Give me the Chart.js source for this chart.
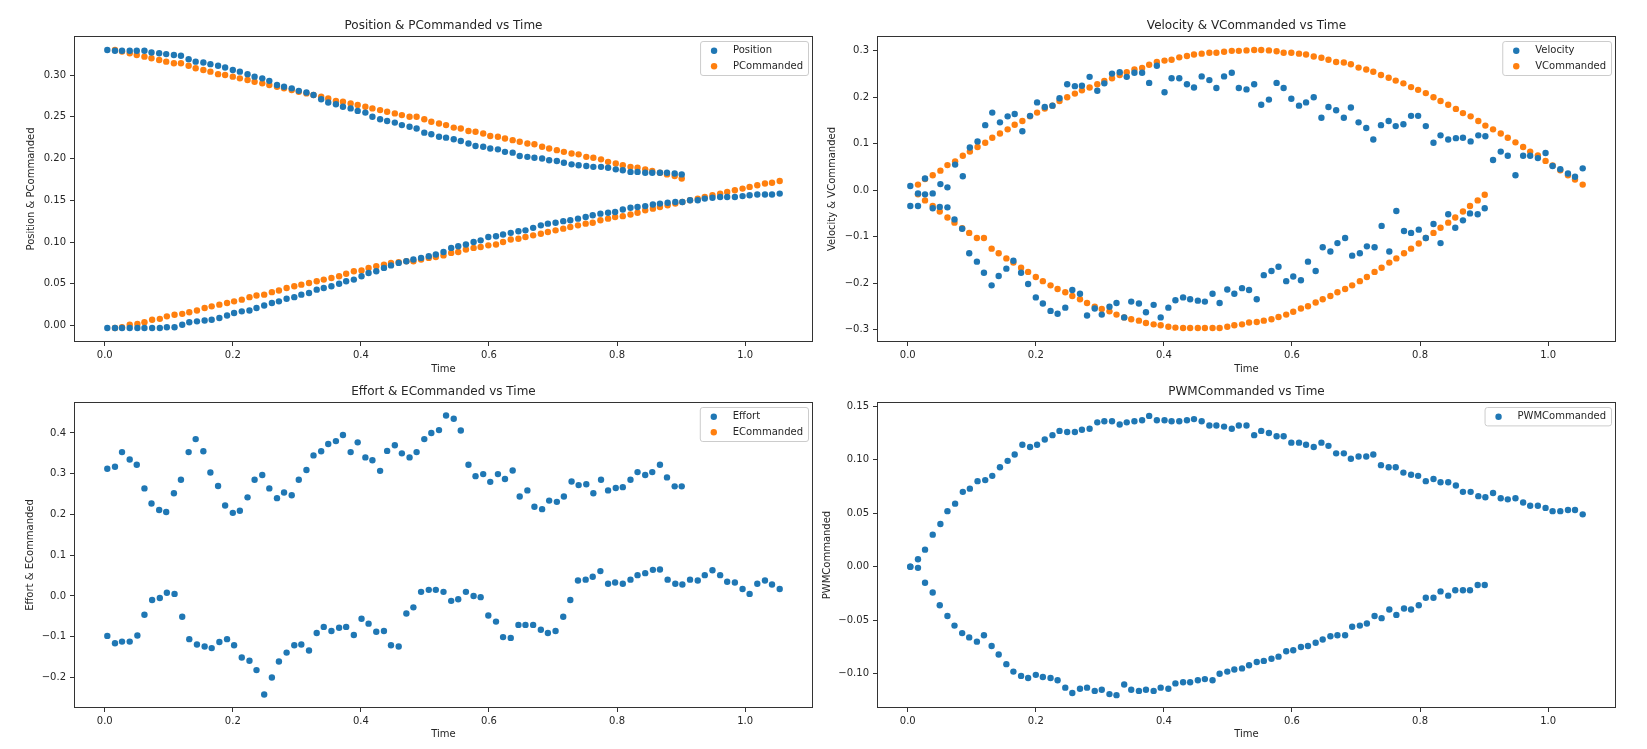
<!DOCTYPE html>
<html>
<head>
<meta charset="utf-8">
<title>Position, Velocity, Effort, PWM vs Time</title>
<script src="https://cdn.jsdelivr.net/npm/chart.js@4.4.1/dist/chart.umd.min.js"></script>
<style>
  body { margin: 0; background: #fff; width: 1647px; height: 749px; position: relative; overflow: hidden; }
  canvas { position: absolute; }
</style>
</head>
<body>
<canvas id="pos" width="823" height="383" style="left:0;top:0"></canvas>
<canvas id="vel" width="823" height="383" style="left:803px;top:0"></canvas>
<canvas id="eff" width="823" height="383" style="left:0;top:366px"></canvas>
<canvas id="pwm" width="823" height="383" style="left:803px;top:366px"></canvas>
<script>
// run A: returning leg (ends ~0.9 s), run B: outgoing leg (ends ~1.05 s)
const timeA = [0.004,0.016,0.027,0.039,0.050,0.062,0.073,0.085,0.096,0.108,
  0.119,0.131,0.142,0.154,0.165,0.177,0.188,0.200,0.211,0.223,
  0.234,0.246,0.257,0.269,0.280,0.292,0.303,0.315,0.326,0.338,
  0.349,0.361,0.372,0.384,0.395,0.407,0.418,0.430,0.441,0.453,
  0.464,0.476,0.487,0.499,0.510,0.522,0.533,0.545,0.556,0.568,
  0.579,0.591,0.602,0.614,0.625,0.637,0.648,0.660,0.671,0.683,
  0.694,0.706,0.717,0.729,0.740,0.752,0.763,0.775,0.786,0.798,
  0.809,0.821,0.832,0.844,0.855,0.867,0.878,0.890,0.901];
const timeB = [0.004,0.016,0.027,0.039,0.051,0.062,0.074,0.086,0.097,0.109,
  0.121,0.132,0.144,0.156,0.167,0.179,0.191,0.202,0.214,0.226,
  0.237,0.249,0.261,0.272,0.284,0.296,0.307,0.319,0.331,0.342,
  0.354,0.366,0.377,0.389,0.401,0.412,0.424,0.436,0.447,0.459,
  0.471,0.482,0.494,0.506,0.517,0.529,0.541,0.552,0.564,0.576,
  0.587,0.599,0.611,0.622,0.634,0.646,0.657,0.669,0.681,0.692,
  0.704,0.716,0.727,0.739,0.751,0.762,0.774,0.786,0.797,0.809,
  0.821,0.832,0.844,0.856,0.867,0.879,0.891,0.902,0.914,0.926,
  0.937,0.949,0.961,0.972,0.984,0.996,1.007,1.019,1.031,1.042,
  1.054];

const positionA = [0.330,0.329,0.329,0.329,0.329,0.329,0.327,0.326,0.325,0.324,
  0.323,0.319,0.316,0.315,0.313,0.311,0.309,0.306,0.304,0.301,
  0.298,0.296,0.293,0.288,0.286,0.284,0.281,0.279,0.276,0.271,
  0.267,0.265,0.262,0.260,0.257,0.255,0.250,0.247,0.245,0.243,
  0.240,0.238,0.236,0.231,0.229,0.226,0.225,0.223,0.221,0.218,
  0.215,0.214,0.212,0.211,0.208,0.207,0.203,0.202,0.201,0.200,
  0.198,0.197,0.195,0.193,0.192,0.191,0.190,0.190,0.189,0.187,
  0.186,0.184,0.184,0.183,0.183,0.183,0.183,0.182,0.181];
const positionB = [-0.003,-0.003,-0.003,-0.003,-0.003,-0.003,-0.003,-0.003,-0.002,-0.002,
  0.001,0.004,0.005,0.006,0.007,0.009,0.012,0.015,0.017,0.018,
  0.021,0.024,0.027,0.029,0.032,0.034,0.037,0.039,0.043,0.045,
  0.047,0.050,0.053,0.055,0.059,0.063,0.065,0.069,0.072,0.075,
  0.077,0.079,0.081,0.083,0.085,0.088,0.093,0.095,0.097,0.100,
  0.102,0.106,0.107,0.109,0.111,0.113,0.114,0.117,0.120,0.122,
  0.123,0.125,0.126,0.128,0.130,0.132,0.134,0.135,0.136,0.139,
  0.141,0.142,0.143,0.145,0.146,0.147,0.148,0.148,0.150,0.150,
  0.152,0.153,0.154,0.154,0.154,0.155,0.156,0.157,0.157,0.157,
  0.158];
// commanded values start one sample later
const pCommandedA = [0.330,0.328,0.326,0.324,0.322,0.320,0.318,0.316,0.314,0.314,
  0.311,0.308,0.306,0.304,0.301,0.300,0.298,0.296,0.294,0.292,
  0.290,0.288,0.286,0.284,0.282,0.280,0.278,0.276,0.274,0.272,
  0.269,0.268,0.266,0.264,0.262,0.260,0.258,0.256,0.254,0.252,
  0.250,0.250,0.247,0.244,0.242,0.240,0.237,0.236,0.233,0.232,
  0.230,0.227,0.226,0.224,0.222,0.220,0.218,0.217,0.214,0.212,
  0.210,0.208,0.206,0.205,0.202,0.201,0.199,0.196,0.194,0.192,
  0.190,0.189,0.187,0.185,0.183,0.181,0.179,0.176];
const pCommandedB = [-0.003,-0.002,0.001,0.002,0.004,0.007,0.008,0.011,0.013,0.014,
  0.016,0.018,0.021,0.023,0.025,0.027,0.029,0.031,0.034,0.036,
  0.037,0.040,0.042,0.045,0.047,0.049,0.051,0.053,0.055,0.057,
  0.059,0.062,0.065,0.066,0.069,0.071,0.073,0.075,0.076,0.077,
  0.077,0.079,0.081,0.082,0.084,0.087,0.088,0.091,0.093,0.094,
  0.096,0.097,0.100,0.103,0.104,0.106,0.108,0.110,0.112,0.114,
  0.116,0.118,0.120,0.122,0.123,0.126,0.128,0.130,0.131,0.133,
  0.135,0.138,0.140,0.142,0.144,0.146,0.148,0.150,0.152,0.154,
  0.156,0.158,0.160,0.162,0.164,0.166,0.168,0.170,0.171,0.173];

const velocityA = [-0.034,-0.034,-0.009,-0.039,-0.036,-0.037,-0.063,-0.083,-0.136,-0.154,
  -0.178,-0.205,-0.185,-0.169,-0.152,-0.178,-0.202,-0.231,-0.244,-0.260,
  -0.266,-0.253,-0.215,-0.223,-0.270,-0.255,-0.268,-0.251,-0.243,-0.274,
  -0.240,-0.244,-0.263,-0.247,-0.274,-0.253,-0.237,-0.231,-0.235,-0.238,
  -0.240,-0.223,-0.243,-0.214,-0.223,-0.211,-0.215,-0.235,-0.183,-0.174,
  -0.165,-0.196,-0.186,-0.194,-0.154,-0.174,-0.123,-0.132,-0.114,-0.103,
  -0.141,-0.136,-0.121,-0.123,-0.077,-0.132,-0.045,-0.088,-0.092,-0.085,
  -0.103,-0.073,-0.114,-0.052,-0.081,-0.065,-0.050,-0.052,-0.039];
const velocityB = [0.009,-0.007,0.025,-0.007,0.013,0.006,0.055,0.030,0.092,0.105,
  0.140,0.167,0.146,0.159,0.164,0.127,0.160,0.189,0.179,0.182,
  0.198,0.228,0.224,0.225,0.244,0.214,0.230,0.251,0.254,0.244,
  0.253,0.253,0.231,0.268,0.211,0.241,0.241,0.228,0.221,0.245,
  0.237,0.220,0.245,0.253,0.220,0.217,0.228,0.184,0.195,0.231,
  0.220,0.197,0.182,0.189,0.200,0.156,0.179,0.172,0.156,0.178,
  0.146,0.134,0.109,0.140,0.149,0.138,0.142,0.160,0.160,0.138,
  0.102,0.118,0.109,0.112,0.113,0.105,0.118,0.116,0.065,0.083,
  0.074,0.032,0.074,0.074,0.069,0.080,0.052,0.045,0.036,0.029,
  0.047];
const vCommandedA = [-0.009,-0.022,-0.034,-0.046,-0.059,-0.070,-0.082,-0.092,-0.103,-0.103,
  -0.126,-0.136,-0.147,-0.156,-0.167,-0.176,-0.187,-0.196,-0.205,-0.213,
  -0.220,-0.228,-0.235,-0.243,-0.251,-0.256,-0.261,-0.268,-0.274,-0.278,
  -0.281,-0.286,-0.289,-0.291,-0.294,-0.296,-0.297,-0.297,-0.297,-0.297,
  -0.297,-0.297,-0.294,-0.291,-0.289,-0.285,-0.284,-0.281,-0.278,-0.273,
  -0.268,-0.262,-0.255,-0.250,-0.242,-0.235,-0.228,-0.220,-0.213,-0.205,
  -0.196,-0.187,-0.176,-0.167,-0.156,-0.147,-0.136,-0.126,-0.115,-0.103,
  -0.092,-0.081,-0.070,-0.059,-0.046,-0.034,-0.022,-0.010];
const vCommandedB = [0.012,0.024,0.032,0.042,0.054,0.062,0.074,0.083,0.093,0.102,
  0.113,0.122,0.131,0.141,0.149,0.159,0.167,0.176,0.182,0.192,
  0.200,0.208,0.215,0.221,0.228,0.235,0.241,0.248,0.254,0.260,
  0.263,0.270,0.276,0.279,0.281,0.286,0.289,0.292,0.294,0.296,
  0.296,0.298,0.300,0.300,0.301,0.302,0.302,0.301,0.299,0.296,
  0.296,0.294,0.292,0.288,0.285,0.281,0.276,0.275,0.271,0.264,
  0.260,0.255,0.248,0.242,0.236,0.230,0.222,0.216,0.209,0.200,
  0.192,0.184,0.175,0.166,0.159,0.149,0.139,0.131,0.122,0.113,
  0.103,0.093,0.083,0.075,0.063,0.053,0.043,0.032,0.023,0.012];

const effortA = [0.312,0.317,0.353,0.335,0.322,0.264,0.227,0.211,0.206,0.252,
  0.285,0.353,0.385,0.355,0.303,0.270,0.222,0.204,0.209,0.242,
  0.285,0.297,0.264,0.240,0.254,0.247,0.285,0.309,0.345,0.355,
  0.373,0.380,0.395,0.353,0.377,0.340,0.333,0.307,0.356,0.370,
  0.350,0.340,0.353,0.385,0.400,0.407,0.443,0.435,0.406,0.322,
  0.294,0.299,0.280,0.299,0.287,0.308,0.244,0.259,0.219,0.213,
  0.234,0.231,0.244,0.281,0.272,0.274,0.252,0.285,0.259,0.265,
  0.267,0.285,0.304,0.297,0.304,0.322,0.291,0.269,0.269];
const effortB = [-0.098,-0.116,-0.112,-0.112,-0.097,-0.046,-0.010,-0.005,0.008,0.005,
  -0.051,-0.106,-0.119,-0.124,-0.128,-0.113,-0.106,-0.121,-0.151,-0.159,
  -0.182,-0.242,-0.200,-0.161,-0.139,-0.121,-0.119,-0.134,-0.091,-0.076,
  -0.086,-0.078,-0.076,-0.096,-0.056,-0.068,-0.088,-0.086,-0.121,-0.124,
  -0.043,-0.028,0.010,0.015,0.015,0.010,-0.012,-0.008,0.010,0.000,
  -0.003,-0.048,-0.063,-0.101,-0.103,-0.071,-0.071,-0.071,-0.083,-0.091,
  -0.086,-0.051,-0.010,0.038,0.040,0.047,0.061,0.030,0.033,0.030,
  0.040,0.051,0.056,0.064,0.065,0.040,0.030,0.028,0.040,0.038,
  0.051,0.063,0.051,0.035,0.033,0.017,0.005,0.030,0.038,0.028,
  0.017];
const eCommanded = [];

const pwmA = [0.000,-0.001,-0.015,-0.024,-0.036,-0.046,-0.055,-0.062,-0.066,-0.070,
  -0.064,-0.074,-0.082,-0.091,-0.098,-0.102,-0.104,-0.101,-0.103,-0.104,
  -0.106,-0.113,-0.118,-0.114,-0.113,-0.116,-0.115,-0.119,-0.120,-0.110,
  -0.115,-0.116,-0.115,-0.116,-0.113,-0.114,-0.109,-0.108,-0.108,-0.106,
  -0.105,-0.106,-0.100,-0.098,-0.096,-0.095,-0.092,-0.089,-0.088,-0.086,
  -0.084,-0.079,-0.078,-0.075,-0.074,-0.071,-0.068,-0.065,-0.064,-0.064,
  -0.056,-0.055,-0.053,-0.046,-0.048,-0.040,-0.045,-0.039,-0.040,-0.036,
  -0.029,-0.029,-0.023,-0.027,-0.022,-0.022,-0.022,-0.017,-0.017];
const pwmB = [0.000,0.007,0.016,0.030,0.040,0.052,0.059,0.070,0.073,0.080,
  0.081,0.085,0.093,0.099,0.105,0.114,0.112,0.114,0.119,0.123,
  0.127,0.126,0.126,0.128,0.129,0.135,0.136,0.136,0.133,0.135,
  0.136,0.137,0.141,0.137,0.137,0.136,0.136,0.137,0.138,0.136,
  0.132,0.132,0.131,0.129,0.132,0.132,0.123,0.127,0.125,0.122,
  0.122,0.116,0.116,0.114,0.112,0.116,0.113,0.106,0.106,0.101,
  0.103,0.103,0.105,0.095,0.093,0.093,0.088,0.086,0.085,0.080,
  0.082,0.079,0.079,0.076,0.070,0.070,0.066,0.065,0.069,0.064,
  0.063,0.064,0.060,0.057,0.057,0.055,0.052,0.052,0.053,0.053,
  0.049];

const xTicks = [0, 0.2, 0.4, 0.6, 0.8, 1.0];
const posTicks = [0, 0.05, 0.10, 0.15, 0.20, 0.25, 0.30];
const velTicks = [-0.3, -0.2, -0.1, 0, 0.1, 0.2, 0.3];
const effTicks = [-0.2, -0.1, 0, 0.1, 0.2, 0.3, 0.4];
const pwmTicks = [-0.10, -0.05, 0, 0.05, 0.10, 0.15];

const BLUE = '#1f77b4';
const ORANGE = '#ff7f0e';
const INK = '#262626';
const FONT = "'DejaVu Sans', sans-serif";

Chart.defaults.font.family = FONT;
Chart.defaults.color = INK;

function fmt(v, digits) {
  const s = Math.abs(v).toFixed(digits);
  return (v < -1e-9 ? '\u2212' : '') + s;
}

function pts(times, vals, offset) {
  return vals.map((v, i) => ({ x: times[i + offset], y: v }));
}

function series(label, color, a, b, offset) {
  return {
    label: label,
    data: pts(timeA, a, offset).concat(pts(timeB, b, offset)),
    backgroundColor: color,
    borderWidth: 0,
    pointRadius: 3.2,
    pointHoverRadius: 3.2
  };
}

// axes box like matplotlib spines
const frame = {
  id: 'frame',
  afterDatasetsDraw(chart) {
    const { ctx, chartArea: a } = chart;
    ctx.save();
    ctx.strokeStyle = '#333';
    ctx.lineWidth = 1;
    ctx.strokeRect(a.left + 0.5, a.top + 0.5, a.width - 1, a.height - 1);
    ctx.restore();
  }
};

// title centred over the plot area, not over the canvas
const panelTitle = {
  id: 'panelTitle',
  afterDraw(chart, args, opts) {
    const { ctx, chartArea: a } = chart;
    ctx.save();
    ctx.font = '12px ' + FONT;
    ctx.fillStyle = INK;
    ctx.textAlign = 'center';
    ctx.textBaseline = 'middle';
    ctx.fillText(opts.text, (a.left + a.right) / 2, a.top - 10.3);
    ctx.restore();
  }
};

// legend box in the upper right corner of the plot
const boxLegend = {
  id: 'boxLegend',
  afterDraw(chart) {
    const { ctx, chartArea } = chart;
    const sets = chart.data.datasets;
    ctx.save();
    ctx.font = '10px ' + FONT;
    const textW = Math.max(...sets.map(s => ctx.measureText(s.label).width));
    const w = textW + 38;
    const h = 18.4 + (sets.length - 1) * 15.6;
    const x = chartArea.right - 5 - w;
    const y = chartArea.top + 5;
    ctx.beginPath();
    ctx.roundRect(x + 0.5, y + 0.5, w, h, 2.5);
    ctx.fillStyle = 'rgba(255,255,255,0.8)';
    ctx.fill();
    ctx.strokeStyle = '#cccccc';
    ctx.lineWidth = 1;
    ctx.stroke();
    sets.forEach((s, i) => {
      const cy = y + 9.7 + i * 15.6;
      ctx.beginPath();
      ctx.arc(x + 14, cy, 3.2, 0, Math.PI * 2);
      ctx.fillStyle = s.backgroundColor;
      ctx.fill();
      ctx.fillStyle = INK;
      ctx.textBaseline = 'middle';
      ctx.fillText(s.label, x + 33, cy);
    });
    ctx.restore();
  }
};

function makeChart(id, cfg) {
  return new Chart(document.getElementById(id), {
    type: 'scatter',
    data: { datasets: cfg.datasets },
    options: {
      responsive: false,
      animation: false,
      devicePixelRatio: 1,
      layout: { padding: { left: 0, right: 10, top: 36, bottom: 0 } },
      plugins: {
        legend: { display: false },
        tooltip: { enabled: false },
        title: { display: false },
        panelTitle: { text: cfg.title }
      },
      scales: {
        x: {
          type: 'linear',
          min: -0.048,
          max: 1.106,
          afterBuildTicks: ax => { ax.ticks = xTicks.map(v => ({ value: v })); },
          afterFit: ax => { ax.height = 41; },
          ticks: { callback: v => fmt(v, 1), padding: 3, font: { size: 10 }, maxRotation: 0, color: INK },
          grid: { drawOnChartArea: false, drawTicks: true, tickLength: 4, color: '#333' },
          border: { display: false },
          title: { display: true, text: 'Time', color: INK, font: { size: 10 }, padding: { top: 0, bottom: cfg.xTitlePad } }
        },
        y: {
          type: 'linear',
          min: cfg.yMin,
          max: cfg.yMax,
          afterBuildTicks: ax => { ax.ticks = cfg.yTicks.map(v => ({ value: v })); },
          afterFit: ax => { ax.width = 74; },
          ticks: { callback: v => fmt(v, cfg.yDigits), padding: 4, font: { size: 10 }, color: INK },
          grid: { drawOnChartArea: false, drawTicks: true, tickLength: 4, color: '#333' },
          border: { display: false },
          title: { display: true, text: cfg.yLabel, color: INK, font: { size: 10 }, padding: { top: cfg.yTitlePad, bottom: 0 } }
        }
      }
    },
    plugins: [frame, panelTitle, boxLegend]
  });
}

makeChart('pos', {
  title: 'Position & PCommanded vs Time',
  yLabel: 'Position & PCommanded',
  yTitlePad: 25.7, xTitlePad: 8,
  yMin: -0.0197, yMax: 0.3467, yTicks: posTicks, yDigits: 2,
  datasets: [
    series('Position', BLUE, positionA, positionB, 0),
    series('PCommanded', ORANGE, pCommandedA, pCommandedB, 1)
  ]
});

makeChart('vel', {
  title: 'Velocity & VCommanded vs Time',
  yLabel: 'Velocity & VCommanded',
  yTitlePad: 23.7, xTitlePad: 8,
  yMin: -0.327, yMax: 0.332, yTicks: velTicks, yDigits: 1,
  datasets: [
    series('Velocity', BLUE, velocityA, velocityB, 0),
    series('VCommanded', ORANGE, vCommandedA, vCommandedB, 1)
  ]
});

makeChart('eff', {
  title: 'Effort & ECommanded vs Time',
  yLabel: 'Effort & ECommanded',
  yTitlePad: 24.2, xTitlePad: 9,
  yMin: -0.275, yMax: 0.476, yTicks: effTicks, yDigits: 1,
  datasets: [
    series('Effort', BLUE, effortA, effortB, 0),
    { label: 'ECommanded', data: eCommanded, backgroundColor: ORANGE, borderWidth: 0, pointRadius: 3.2 }
  ]
});

makeChart('pwm', {
  title: 'PWMCommanded vs Time',
  yLabel: 'PWMCommanded',
  yTitlePad: 18.7, xTitlePad: 9,
  yMin: -0.132, yMax: 0.154, yTicks: pwmTicks, yDigits: 2,
  datasets: [
    series('PWMCommanded', BLUE, pwmA, pwmB, 0)
  ]
});
</script>
</body>
</html>
